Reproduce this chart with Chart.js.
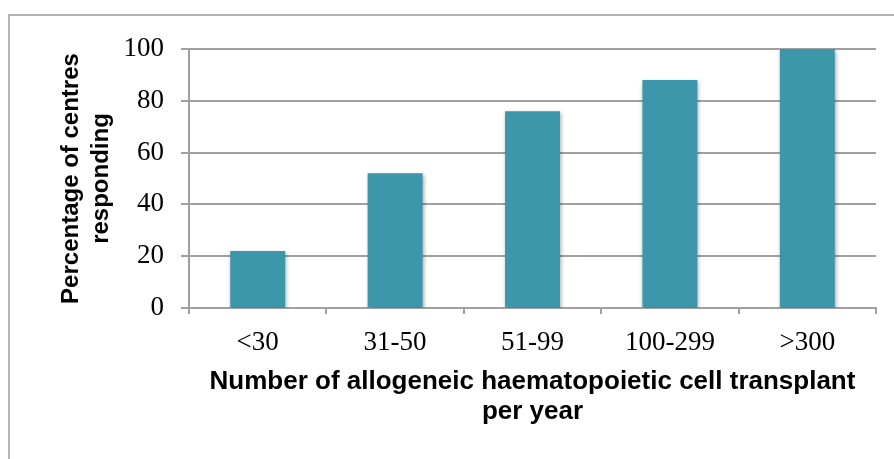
<!DOCTYPE html>
<html>
<head>
<meta charset="utf-8">
<script src="https://cdn.jsdelivr.net/npm/chart.js@4"></script>
<style>
  html, body { margin: 0; padding: 0; background: #fff; overflow: hidden; }
  #wrap { position: relative; width: 894px; height: 459px; }
  #frame {
    position: absolute; left: 8px; top: 14px; width: 1000px; height: 1000px;
    border: 2px solid #b3b3b3; box-sizing: border-box;
  }
  canvas { position: absolute; left: 0; top: 0; }
</style>
</head>
<body>
<div id="wrap">
  <div id="frame"></div>
  <canvas id="chart" width="894" height="459"></canvas>
</div>
<script>
const categories = ["<30", "31-50", "51-99", "100-299", ">300"];
const percentResponding = [22, 52, 76, 88, 100];
const yTicks = [0, 20, 40, 60, 80, 100];

// soft drop shadow under the bars
const barShadow = {
  id: "barShadow",
  beforeDatasetsDraw(chart) {
    const ctx = chart.ctx;
    ctx.save();
    ctx.shadowColor = "rgba(0,0,0,0.35)";
    ctx.shadowBlur = 4;
    ctx.shadowOffsetX = 1;
    ctx.shadowOffsetY = 2;
  },
  afterDatasetsDraw(chart) {
    chart.ctx.restore();
  }
};

const serif = "'Liberation Serif', serif";
const sans = "'Liberation Sans', Arial, sans-serif";

const ctx = document.getElementById("chart").getContext("2d");
new Chart(ctx, {
  type: "bar",
  data: {
    labels: categories,
    datasets: [{
      data: percentResponding,
      backgroundColor: "#3d97ab",
      borderWidth: 0,
      barPercentage: 0.4,
      categoryPercentage: 1.0
    }]
  },
  options: {
    responsive: false,
    animation: false,
    layout: { padding: { top: 49, right: 18, left: 0, bottom: 0 } },
    plugins: { legend: { display: false }, tooltip: { enabled: false } },
    scales: {
      x: {
        afterFit: (scale) => { scale.height = 151; },
        grid: { drawOnChartArea: false, tickLength: 6, color: "#a0a0a0", lineWidth: 2 },
        border: { display: true, color: "#a0a0a0", width: 2 },
        ticks: {
          color: "#000",
          padding: 13,
          font: { family: serif, size: 27 }
        },
        title: {
          display: true,
          text: ["Number of allogeneic haematopoietic cell transplant", "per year"],
          color: "#000",
          font: { family: sans, size: 26, weight: "bold", lineHeight: 1.15 },
          padding: { top: 0, bottom: 32 }
        }
      },
      y: {
        min: 0,
        max: 100,
        afterFit: (scale) => { scale.width = 189; },
        afterBuildTicks: (scale) => { scale.ticks = yTicks.map(v => ({ value: v })); },
        grid: { color: "#a0a0a0", lineWidth: 2, tickLength: 8 },
        border: { display: true, color: "#a0a0a0", width: 2 },
        ticks: {
          color: "#000",
          padding: 17,
          font: { family: serif, size: 27 }
        },
        title: {
          display: true,
          text: ["Percentage of centres", "responding"],
          color: "#000",
          font: { family: sans, size: 24, weight: "bold", lineHeight: 1.25 },
          padding: { top: 56, bottom: 0 }
        }
      }
    }
  },
  plugins: [barShadow]
});
</script>
</body>
</html>
